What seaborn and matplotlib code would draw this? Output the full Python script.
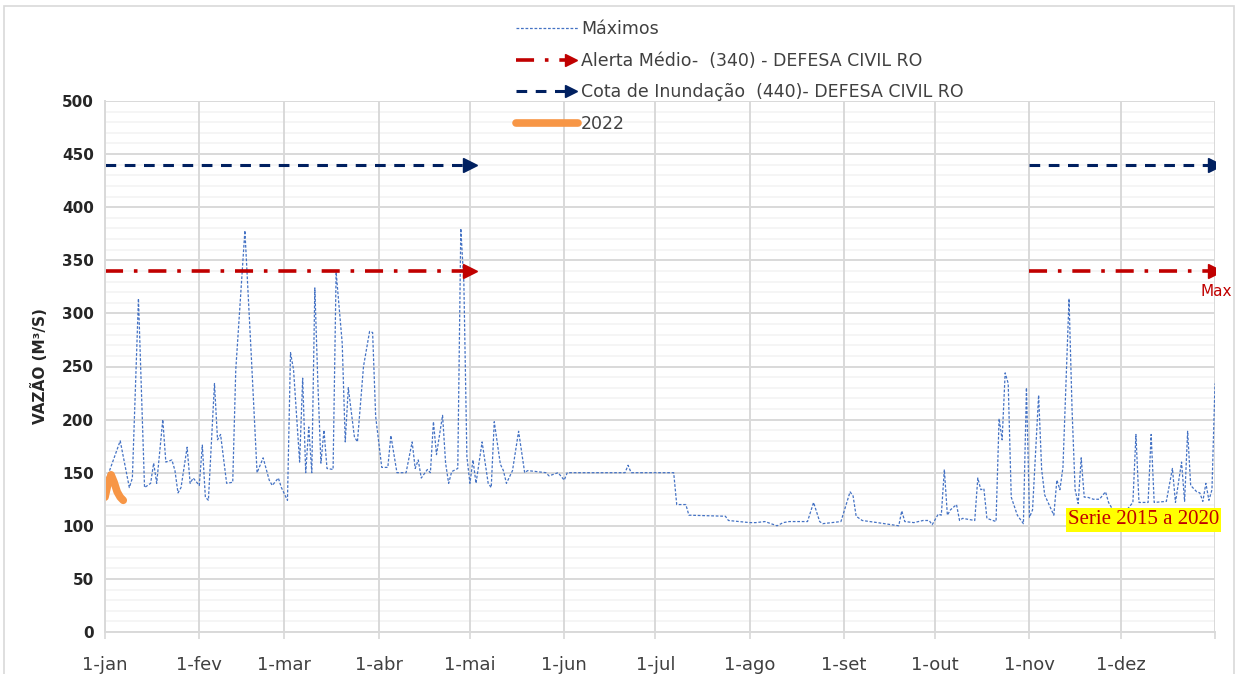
import matplotlib
matplotlib.use("Agg")
import matplotlib.pyplot as plt
import seaborn as sns
from matplotlib.patches import Rectangle
from matplotlib.lines import Line2D
from matplotlib.legend_handler import HandlerLine2D

# Máximos (serie 2015 a 2020) - dia do ano e vazão
MAX_DAYS = [0, 5, 8, 9, 11, 13, 15, 16, 17, 19, 20, 22, 23, 24, 25, 27, 28, 29, 31, 32,
            33, 34, 36, 37, 38, 40, 42, 43, 46, 48, 50, 52, 54, 55, 57, 58, 60, 61, 62, 64,
            65, 66, 67, 68, 69, 70, 71, 72, 73, 75, 76, 78, 79, 80, 82, 83, 85, 87, 88, 89,
            91, 93, 94, 96, 99, 101, 102, 103, 104, 106, 107, 108, 109, 111, 112, 113, 114, 116, 117, 118,
            119, 120, 121, 122, 124, 126, 127, 128, 130, 131, 132, 134, 136, 138, 139, 145, 146, 149, 151, 152,
            171, 172, 173, 187, 188, 191, 192, 204, 205, 212, 214, 217, 221, 223, 225, 231, 233, 235, 236, 239,
            242, 245, 246, 247, 249, 254, 261, 262, 263, 266, 269, 271, 272, 274, 275, 276, 277, 278, 280, 281,
            282, 284, 286, 287, 288, 289, 290, 293, 294, 295, 296, 297, 298, 300, 302, 303, 304, 305, 307, 308,
            309, 312, 313, 314, 315, 317, 318, 319, 320, 321, 322, 323, 325, 327, 329, 330, 332, 336, 338, 339,
            340, 343, 344, 345, 349, 351, 352, 354, 355, 356, 357, 359, 360, 361, 362, 363, 364, 365]
MAX_VALUES = [140, 180, 136, 145, 314, 136, 140, 159, 140, 200, 160, 162, 152, 131, 136, 174, 140, 145, 138, 176,
              127, 124, 234, 181, 186, 140, 141, 247, 378, 266, 150, 164, 143, 138, 145, 136, 124, 263, 247, 160,
              239, 150, 193, 150, 324, 234, 159, 190, 154, 153, 339, 272, 179, 230, 184, 179, 250, 283, 282, 203,
              155, 155, 185, 150, 150, 179, 154, 162, 145, 153, 150, 198, 167, 204, 159, 140, 151, 154, 380, 329,
              165, 140, 162, 140, 179, 140, 136, 198, 158, 152, 140, 152, 189, 150, 152, 150, 147, 150, 143, 150,
              150, 157, 150, 150, 120, 120, 110, 109, 105, 103, 103, 104, 100, 103, 104, 104, 122, 104, 102, 103,
              104, 132, 128, 109, 105, 103, 100, 114, 104, 103, 105, 105, 101, 111, 110, 153, 110, 115, 120, 105,
              107, 106, 105, 145, 134, 135, 107, 104, 201, 181, 244, 234, 127, 110, 102, 230, 108, 115, 223, 153,
              129, 110, 143, 134, 155, 314, 209, 134, 121, 164, 127, 127, 125, 125, 132, 122, 112, 115, 122, 186,
              122, 122, 186, 122, 123, 154, 122, 160, 123, 189, 138, 132, 131, 123, 140, 124, 134, 234]

# 2022
DAYS_2022 = [0, 1, 2, 3, 4, 5, 6]
VALUES_2022 = [127, 140, 148, 141, 132, 127, 124]

# Cotas de referência (Defesa Civil RO) e períodos em que aparecem
ALERTA = 340
INUNDACAO = 440
PERIOD_STARTS = [0, 304]
PERIOD_ENDS = [120, 365]

MONTH_STARTS = [0, 31, 59, 90, 120, 151, 181, 212, 243, 273, 304, 334, 365]
MONTH_LABELS = ["1-jan", "1-fev", "1-mar", "1-abr", "1-mai", "1-jun", "1-jul",
                "1-ago", "1-set", "1-out", "1-nov", "1-dez", ""]


class ArrowLineHandler(HandlerLine2D):
    # line in the legend with the arrow head only at the right end
    def create_artists(self, legend, orig_handle, xdescent, ydescent,
                       width, height, fontsize, trans):
        y = (height - ydescent) / 2
        line = Line2D([-xdescent, width - xdescent - 5], [y, y])
        self.update_prop(line, orig_handle, legend)
        line.set_markevery([1])
        line.set_markersize(8)
        line.set_transform(trans)
        return [line]


sns.set_theme(style="white")
plt.rcParams["font.family"] = ["DejaVu Sans"]

fig = plt.figure(figsize=(12.44, 6.74), dpi=100)
ax = fig.add_axes([105 / 1244, 42 / 674, 1110 / 1244, 531 / 674])

# grid
for v in range(0, 501, 10):
    if v % 50:
        ax.axhline(v, color="#F2F2F2", lw=1.1, zorder=0)
for v in range(0, 501, 50):
    ax.axhline(v, color="#D9D9D9", lw=1.4, zorder=0)
for d in MONTH_STARTS:
    ax.axvline(d, color="#D9D9D9", lw=1.4, zorder=0)

sns.lineplot(x=MAX_DAYS, y=MAX_VALUES, ax=ax, color="#4472C4", lw=0.9,
             linestyle=(0, (2.2, 1.4)), label="Máximos")

alerta_lines = []
for s, e in zip(PERIOD_STARTS, PERIOD_ENDS):
    alerta_lines += ax.plot([s, e], [ALERTA, ALERTA], color="#C00000", lw=2.6,
                            linestyle=(0, (5, 3, 1, 3)), marker=">", markevery=[1],
                            markersize=10)
cota_lines = []
for s, e in zip(PERIOD_STARTS, PERIOD_ENDS):
    cota_lines += ax.plot([s, e], [INUNDACAO, INUNDACAO], color="#002060", lw=2.2,
                          linestyle=(0, (3.5, 2.8)), marker=">", markevery=[1],
                          markersize=10)

sns.lineplot(x=DAYS_2022, y=VALUES_2022, ax=ax, color="#F79646", lw=5.5,
             label="2022", solid_capstyle="round")

ax.set_xlim(0, 365)
ax.set_ylim(0, 500)
ax.set_xticks(MONTH_STARTS)
ax.set_xticklabels(MONTH_LABELS, fontsize=13, color="#404040")
ax.set_yticks(range(0, 501, 50))
ax.set_yticklabels([str(v) for v in range(0, 501, 50)], fontsize=11, fontweight="bold")
ax.tick_params(axis="x", length=5, color="#D9D9D9", pad=12, bottom=True)
ax.tick_params(axis="y", length=0, pad=8)
ax.set_ylabel("VAZÃO (M³/S)", fontsize=11, fontweight="bold", labelpad=10)
ax.set_xlabel("")
for side in ["top", "right"]:
    ax.spines[side].set_visible(False)
ax.spines["left"].set_color("#D9D9D9")
ax.spines["bottom"].set_color("#D9D9D9")
ax.spines["left"].set_linewidth(1.4)
ax.spines["bottom"].set_linewidth(1.4)

handles, labels = ax.get_legend_handles_labels()
ax.get_legend().remove()
handles = [handles[0], alerta_lines[0], cota_lines[0], handles[1]]
labels = ["Máximos", "Alerta Médio-  (340) - DEFESA CIVIL RO",
          "Cota de Inundação  (440)- DEFESA CIVIL RO", "2022"]
arrow_handler = ArrowLineHandler()
fig.legend(handles, labels, loc="upper left", bbox_to_anchor=(0.402, 0.993),
           frameon=False, fontsize=12.5, handlelength=3.6, handletextpad=0.15,
           labelspacing=0.78, labelcolor="#404040",
           handler_map={alerta_lines[0]: arrow_handler, cota_lines[0]: arrow_handler})

fig.text(1216 / 1244, 1 - 291 / 674, "Max", color="#C00000", fontsize=11,
         ha="center", va="center")
fig.text(1068 / 1244, 1 - 520 / 674, "Serie 2015 a 2020", color="#C00000",
         fontsize=15, family="Liberation Serif", ha="left", va="center",
         bbox=dict(facecolor="#FFFF00", edgecolor="none", pad=1.5))

fig.patches.append(Rectangle((4 / 1244, -0.01), 1230 / 1244, 1 - 6 / 674 + 0.01,
                             transform=fig.transFigure, fill=False,
                             edgecolor="#D9D9D9", lw=1.2))

fig.savefig("out.png", dpi=100)
